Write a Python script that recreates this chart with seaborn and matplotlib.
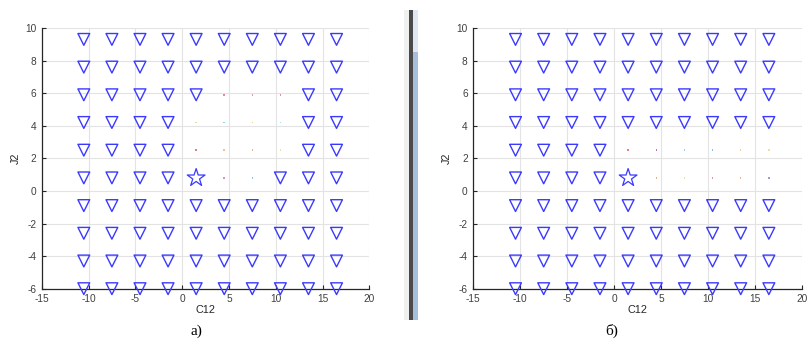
import matplotlib
matplotlib.use('Agg')
import matplotlib.pyplot as plt
from matplotlib.patches import Rectangle
import numpy as np
import pandas as pd
import seaborn as sns

# сетка узлов (C12, J2)
c12_levels = [-10.5, -7.5, -4.5, -1.5, 1.5, 4.5, 7.5, 10.5, 13.5, 16.5]
j2_levels = [9.3, 7.6, 5.9, 4.2, 2.5, 0.8, -0.9, -2.6, -4.3, -6.0]
star_point = (1.5, 0.8)

# узлы без треугольников (вместо них еле заметные точки)
empty_a = [(4.5, 5.9), (7.5, 5.9), (10.5, 5.9),
           (1.5, 4.2), (4.5, 4.2), (7.5, 4.2), (10.5, 4.2),
           (1.5, 2.5), (4.5, 2.5), (7.5, 2.5), (10.5, 2.5),
           (4.5, 0.8), (7.5, 0.8)]
dots_a = ['#e08aa0', '#d8a0c8', '#e090a8',
          '#e8d890', '#90d8e0', '#f0d090', '#a0e0f0',
          '#e08080', '#f0c090', '#f0b080', '#f0e0a0',
          '#d890c0', '#90c0f0']
empty_b = [(4.5, 2.5), (7.5, 2.5), (10.5, 2.5), (13.5, 2.5), (16.5, 2.5),
           (1.5, 2.5), (4.5, 0.8), (7.5, 0.8), (10.5, 0.8), (13.5, 0.8), (16.5, 0.8)]
dots_b = ['#c870b0', '#90d0f0', '#80c0f0', '#f0d0a0', '#f0e0a0',
          '#e88080', '#f0b080', '#f0e0a0', '#e890b0', '#f0b090', '#b090d0']

panel_labels = ['а)', 'б)']
blue = '#3a3aff'


def grid_frame(empty):
    rows = []
    for y in j2_levels:
        for x in c12_levels:
            if (x, y) in empty or (x, y) == star_point:
                continue
            rows.append({'C12': x, 'J2': y})
    return pd.DataFrame(rows)


sns.set_style('ticks')
plt.rcParams['font.family'] = ['Liberation Sans', 'DejaVu Sans']
plt.rcParams['axes.unicode_minus'] = False

fig = plt.figure(figsize=(8.08, 3.4), dpi=100)
W, H = 808, 340


def px_axes(x0, x1, ytop, ybot):
    return fig.add_axes([x0 / W, 1 - ybot / H, (x1 - x0) / W, (ybot - ytop) / H])


axes = [px_axes(41.7, 369.3, 28, 288.7), px_axes(473.3, 801.7, 28, 288.7)]

for ax, empty, dcols, lab, cx in zip(axes, [empty_a, empty_b], [dots_a, dots_b],
                                     panel_labels, [196, 612]):
    df = grid_frame(empty)
    ax.set_axisbelow(True)
    ax.grid(True, color='#e3e3e3', linewidth=0.8)
    sns.scatterplot(data=df, x='C12', y='J2', ax=ax, marker='v', s=72,
                    facecolor='none', edgecolor=blue, linewidth=1.0,
                    clip_on=False, zorder=3)
    ax.scatter([star_point[0]], [star_point[1]], marker='*', s=180,
               facecolor='none', edgecolor=blue, linewidth=0.9, clip_on=False, zorder=3)
    ex = [p[0] for p in empty]
    ey = [p[1] for p in empty]
    ax.scatter(ex, ey, s=1.2, c=dcols, marker='s', linewidths=0, zorder=3)

    ax.set_xlim(-15, 20)
    ax.set_ylim(-6, 10)
    ax.set_xticks(np.arange(-15, 21, 5))
    ax.set_yticks(np.arange(-6, 11, 2))
    ax.tick_params(direction='in', length=3, width=0.8, colors='#262626',
                   labelsize=7.3, labelcolor='#404040')
    ax.tick_params(axis='x', pad=3.5)
    ax.tick_params(axis='y', pad=4)
    for side in ['top', 'right']:
        ax.spines[side].set_visible(False)
    for side in ['left', 'bottom']:
        ax.spines[side].set_color('#262626')
        ax.spines[side].set_linewidth(0.9)
    ax.set_xlabel('C12', fontsize=7.8, color='#262626', labelpad=1)
    ax.set_ylabel('J2', fontsize=7.8, color='#262626', labelpad=3)
    fig.text(cx / W, 1 - 331 / H, lab, fontsize=11, family='Liberation Serif',
             ha='center', va='center', color='black')

# разделитель между рисунками
fig.add_artist(Rectangle((404 / W, 1 - 320 / H), 5 / W, 310 / H,
                         transform=fig.transFigure, color='#f0f0f0', lw=0))
fig.add_artist(Rectangle((409 / W, 1 - 320 / H), 4 / W, 310 / H,
                         transform=fig.transFigure, color='#4a4a4a', lw=0))
fig.add_artist(Rectangle((413.5 / W, 1 - 320 / H), 5 / W, 268 / H,
                         transform=fig.transFigure, color='#a6c0dc', lw=0))
fig.add_artist(Rectangle((413.5 / W, 1 - 52 / H), 5 / W, 42 / H,
                         transform=fig.transFigure, color='#dfe8f2', lw=0))

fig.savefig('out.png', dpi=100)
plt.close(fig)
